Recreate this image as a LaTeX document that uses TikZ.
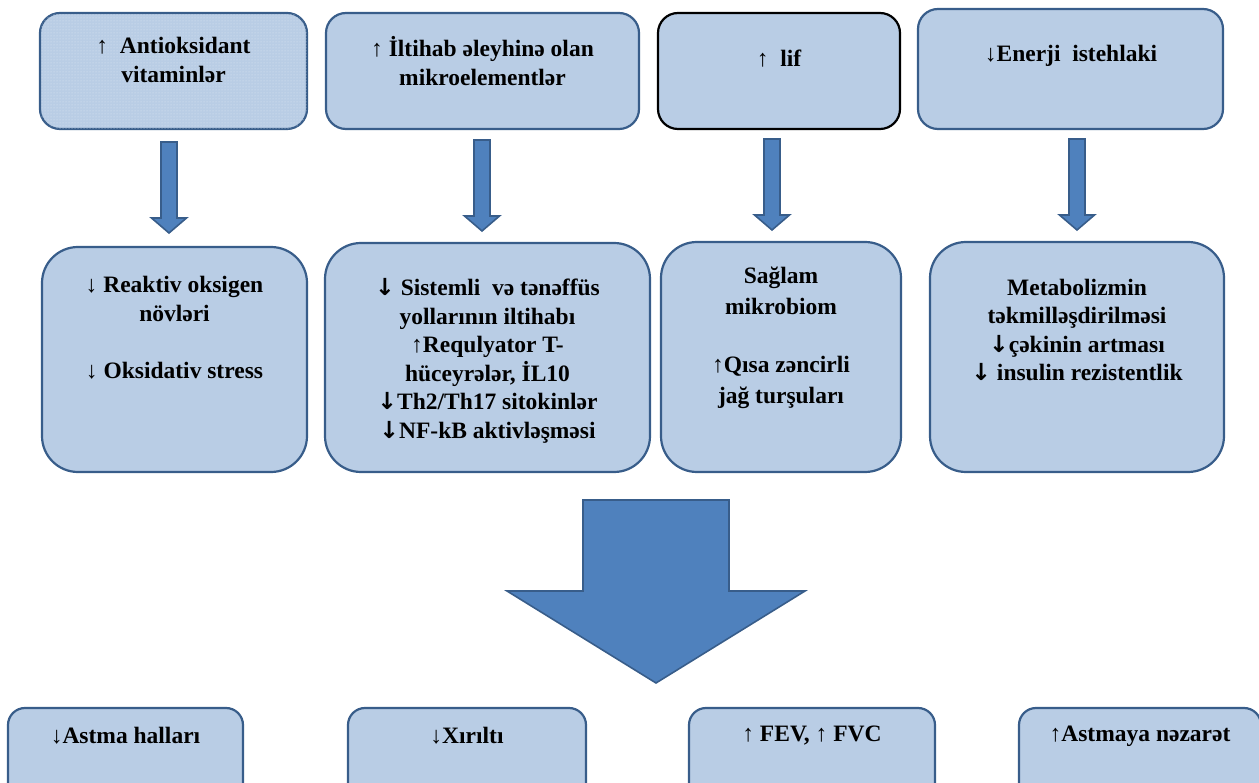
\documentclass[tikz,border=0pt]{standalone}
\usepackage{fontspec}
\setmainfont{Liberation Serif}
\newfontfamily\arrfont{DejaVu Sans}
\usetikzlibrary{patterns}
\definecolor{boxfill}{HTML}{B9CDE5}
\definecolor{boxline}{HTML}{385D8A}
\definecolor{arrfill}{HTML}{4F81BD}
\newcommand{\upA}{{\mdseries ↑}}
\newcommand{\dnA}{{\mdseries ↓}}
\newcommand{\dnH}{{\arrfont\bfseries ↓}}
\begin{document}
\begin{tikzpicture}[x=1pt,y=-1pt]
\tikzset{
  box/.style={draw=boxline, line width=2.2pt, fill=boxfill, inner sep=0pt, rounded corners=20pt},
  midbox/.style={box, rounded corners=36pt},
  lowbox/.style={box, rounded corners=17pt},
  txt/.style={align=center, inner sep=0pt, font=\fontsize{23.5}{28.5}\selectfont\bfseries},
  blockarr/.style={draw=boxline, line width=1.6pt, fill=arrfill, line join=miter},
  sarrow/.pic={\draw[blockarr] (-8,0) -- (8,0) -- (8,76) -- (17.5,76) -- (0,91) -- (-17.5,76) -- (-8,76) -- cycle;}
}
\useasboundingbox (0,0) rectangle (1259,783);
\clip (0,0) rectangle (1259,783);

% top row
\node[box, minimum width=267pt, minimum height=116pt, postaction={pattern=dots, pattern color=white!55!boxfill}] (a1) at (173.5,71) {};
\node[box, minimum width=313pt, minimum height=116pt] (a2) at (482.5,71) {};
\node[box, draw=black, minimum width=242pt, minimum height=116pt] (a3) at (779,71) {};
\node[box, minimum width=305pt, minimum height=120pt] (a4) at (1070.5,69) {};

\node[txt] (ta1) at (173.5,60) {\upA\ \ Antioksidant\\vitaminlər};
\node[txt] (ta2) at (482.5,61) {\upA\ İltihab əleyhinə olan\\mikroelementlər};
\node[txt] (ta3) at (779,59) {\upA\ \ lif};
\node[txt] (ta4) at (1071,56) {\dnA Enerji\ \ istehlaki};

% small arrows
\pic at (169,142) {sarrow};
\pic at (482,140) {sarrow};
\pic at (772,139) {sarrow};
\pic at (1077,139) {sarrow};

% middle row
\node[midbox, minimum width=265pt, minimum height=225pt] (b1) at (174.5,359.5) {};
\node[midbox, minimum width=325pt, minimum height=229pt] (b2) at (487.5,357.5) {};
\node[midbox, minimum width=240pt, minimum height=230pt] (b3) at (781,357) {};
\node[midbox, minimum width=294pt, minimum height=230pt] (b4) at (1077,357) {};

\node[txt, anchor=north] (tb1) at (174.5,276) {\dnA\ Reaktiv oksigen\\növləri\\[29pt]\dnA\ Oksidativ stress};
\node[txt] (tb2) at (487.5,361) {\dnH\ Sistemli\ \ və tənəffüs\\yollarının iltihabı\\\upA Requlyator T-\\hüceyrələr, İL10\\\dnH Th2/Th17 sitokinlər\\\dnH NF-kB aktivləşməsi};
\node[txt, anchor=north, font=\fontsize{23.5}{31}\selectfont\bfseries] (tb3) at (781,267) {Sağlam\\mikrobiom\\[27pt]\upA Qısa zəncirli\\jağ turşuları};
\node[txt] (tb4) at (1077,330) {Metabolizmin\\təkmilləşdirilməsi\\\dnH çəkinin artması\\\dnH\ insulin rezistentlik};

% big arrow
\draw[blockarr] (583,500) -- (729,500) -- (729,591) -- (805,591) -- (656,683) -- (507,591) -- (583,591) -- cycle;

% bottom row
\node[lowbox, minimum width=235pt, minimum height=92pt] (c1) at (125.5,754) {};
\node[lowbox, minimum width=238pt, minimum height=92pt] (c2) at (467,754) {};
\node[lowbox, minimum width=246pt, minimum height=92pt] (c3) at (812,754) {};
\node[lowbox, minimum width=242pt, minimum height=92pt] (c4) at (1140,754) {};

\node[txt] (tc1) at (125.5,736) {\dnA Astma halları};
\node[txt] (tc2) at (467,736) {\dnA Xırıltı};
\node[txt] (tc3) at (812,736) {\upA\ FEV, \upA\ FVC};
\node[txt] (tc4) at (1140,736) {\upA Astmaya nəzarət};
\end{tikzpicture}
\end{document}
